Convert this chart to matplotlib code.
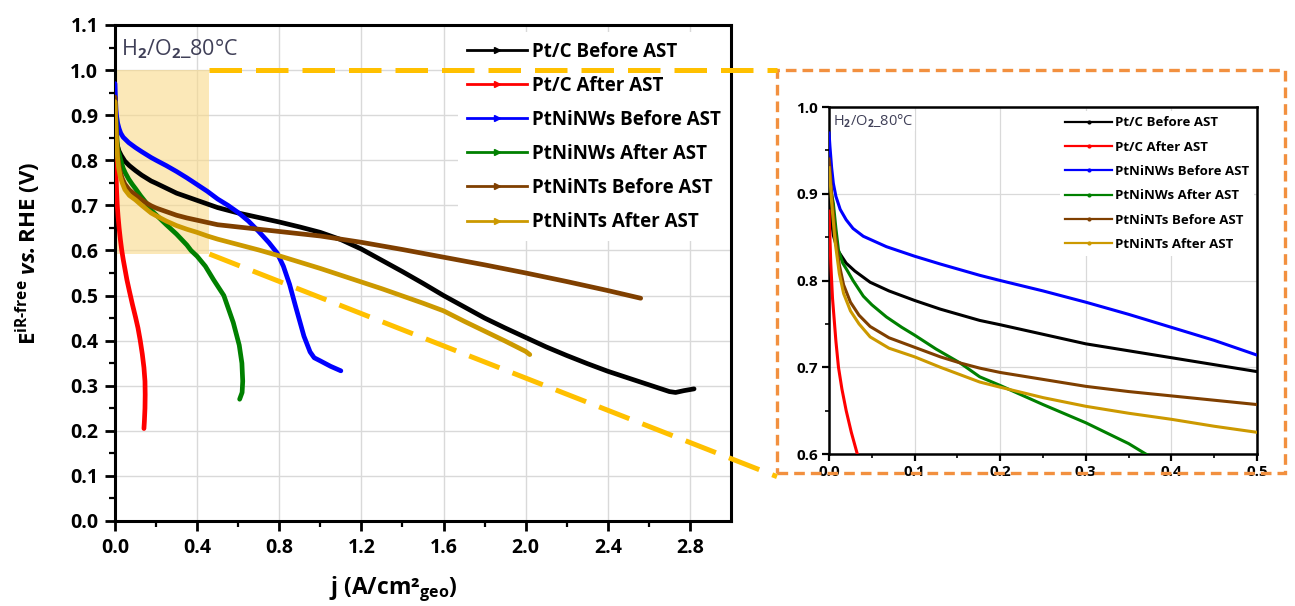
import numpy as np
import matplotlib.pyplot as plt
from matplotlib.lines import Line2D
from matplotlib.patches import Rectangle

plt.rcParams['font.family'] = ['Open Sans', 'DejaVu Sans']
plt.rcParams['font.weight'] = 'bold'
plt.rcParams['mathtext.fontset'] = 'custom'
plt.rcParams['mathtext.rm'] = 'Open Sans'
plt.rcParams['mathtext.bf'] = 'Open Sans:bold'
plt.rcParams['mathtext.it'] = 'Open Sans:italic'
plt.rcParams['mathtext.bfit'] = 'Open Sans:bold:italic'

# polarization curves, j in A/cm2, E in V
ptc_before_j = [0, 0.001, 0.003, 0.005, 0.01, 0.02, 0.03, 0.048, 0.07, 0.1, 0.13, 0.176, 0.2, 0.25,
                0.3, 0.35, 0.4, 0.45, 0.5, 0.6, 0.7, 0.8, 0.9, 1.0, 1.1, 1.2, 1.3, 1.4, 1.5, 1.6,
                1.7, 1.8, 1.9, 2.0, 2.1, 2.2, 2.3, 2.4, 2.5, 2.6, 2.7, 2.73, 2.77, 2.82]
ptc_before_E = [0.94, 0.90, 0.868, 0.852, 0.835, 0.82, 0.811, 0.798, 0.788, 0.777, 0.767, 0.754, 0.749, 0.738,
                0.727, 0.719, 0.711, 0.703, 0.695, 0.683, 0.673, 0.663, 0.652, 0.640, 0.624, 0.603, 0.578, 0.553, 0.527, 0.500,
                0.475, 0.450, 0.428, 0.407, 0.386, 0.367, 0.349, 0.332, 0.317, 0.302, 0.287, 0.285, 0.289, 0.293]

ptc_after_j = [0, 0.001, 0.002, 0.004, 0.006, 0.008, 0.011, 0.015, 0.02, 0.026, 0.033, 0.04, 0.05, 0.058,
               0.07, 0.085, 0.1, 0.112, 0.123, 0.133, 0.141, 0.146, 0.147, 0.146, 0.143, 0.141]
ptc_after_E = [0.88, 0.85, 0.82, 0.78, 0.755, 0.73, 0.70, 0.675, 0.65, 0.625, 0.60, 0.58, 0.555, 0.535,
               0.51, 0.48, 0.452, 0.428, 0.40, 0.37, 0.34, 0.31, 0.28, 0.25, 0.22, 0.205]

nw_before_j = [0, 0.001, 0.003, 0.005, 0.008, 0.013, 0.02, 0.028, 0.04, 0.067, 0.1, 0.13, 0.176, 0.2,
               0.25, 0.3, 0.35, 0.4, 0.45, 0.5, 0.55, 0.6, 0.65, 0.7, 0.75, 0.79, 0.82, 0.85, 0.88, 0.92,
               0.95, 0.97, 1.0, 1.05, 1.1]
nw_before_E = [0.97, 0.955, 0.93, 0.912, 0.897, 0.882, 0.87, 0.86, 0.851, 0.839, 0.828, 0.819, 0.806, 0.80,
               0.788, 0.775, 0.761, 0.746, 0.731, 0.714, 0.70, 0.684, 0.665, 0.642, 0.617, 0.594, 0.565, 0.525, 0.475, 0.41,
               0.375, 0.362, 0.355, 0.343, 0.333]

nw_after_j = [0, 0.002, 0.005, 0.008, 0.011, 0.016, 0.021, 0.028, 0.04, 0.05, 0.067, 0.085, 0.1, 0.125,
              0.153, 0.176, 0.2, 0.25, 0.3, 0.35, 0.37, 0.4, 0.44, 0.48, 0.53, 0.576, 0.605, 0.618,
              0.622, 0.619, 0.607]
nw_after_E = [0.93, 0.905, 0.889, 0.86, 0.835, 0.82, 0.812, 0.80, 0.782, 0.772, 0.758, 0.746, 0.737, 0.721,
              0.705, 0.689, 0.679, 0.657, 0.636, 0.612, 0.60, 0.587, 0.565, 0.535, 0.50, 0.44, 0.39, 0.35,
              0.31, 0.285, 0.27]

nt_before_j = [0, 0.001, 0.003, 0.007, 0.012, 0.017, 0.025, 0.035, 0.048, 0.07, 0.1, 0.13, 0.153, 0.176,
               0.2, 0.25, 0.3, 0.35, 0.4, 0.45, 0.5, 0.6, 0.8, 1.0, 1.2, 1.4, 1.6, 1.8, 2.0, 2.2, 2.4, 2.56]
nt_before_E = [0.94, 0.93, 0.90, 0.855, 0.818, 0.795, 0.775, 0.76, 0.747, 0.734, 0.723, 0.712, 0.705, 0.699,
               0.694, 0.686, 0.678, 0.672, 0.667, 0.662, 0.657, 0.652, 0.642, 0.632, 0.618, 0.602, 0.585, 0.568,
               0.55, 0.531, 0.511, 0.494]

nt_after_j = [0, 0.001, 0.003, 0.007, 0.012, 0.017, 0.025, 0.035, 0.048, 0.07, 0.1, 0.13, 0.176, 0.2,
              0.25, 0.3, 0.35, 0.4, 0.45, 0.5, 0.6, 0.7, 0.8, 0.9, 1.0, 1.1, 1.2, 1.3, 1.4, 1.5, 1.6,
              1.7, 1.8, 1.9, 2.0, 2.02]
nt_after_E = [0.93, 0.92, 0.89, 0.845, 0.808, 0.785, 0.765, 0.75, 0.735, 0.722, 0.712, 0.700, 0.683, 0.677,
              0.665, 0.655, 0.647, 0.64, 0.632, 0.625, 0.613, 0.601, 0.588, 0.574, 0.56, 0.545, 0.53, 0.515,
              0.499, 0.483, 0.466, 0.443, 0.421, 0.399, 0.376, 0.369]

series_j = [ptc_before_j, ptc_after_j, nw_before_j, nw_after_j, nt_before_j, nt_after_j]
series_E = [ptc_before_E, ptc_after_E, nw_before_E, nw_after_E, nt_before_E, nt_after_E]
labels = ['Pt/C Before AST', 'Pt/C After AST', 'PtNiNWs Before AST',
          'PtNiNWs After AST', 'PtNiNTs Before AST', 'PtNiNTs After AST']
colors = ['#000000', '#ff0000', '#0000ff', '#008000', '#7f3f00', '#cc9900']

main_xticks = [0.0, 0.4, 0.8, 1.2, 1.6, 2.0, 2.4, 2.8]
main_yticks = [0.0, 0.1, 0.2, 0.3, 0.4, 0.5, 0.6, 0.7, 0.8, 0.9, 1.0, 1.1]
inset_xticks = [0.0, 0.1, 0.2, 0.3, 0.4, 0.5]
inset_yticks = [0.6, 0.7, 0.8, 0.9, 1.0]
zoom_j = (0.0, 0.46)
zoom_E = (0.592, 1.0)
condition = r'H$_2$/O$_2$_80°C'

fig = plt.figure(figsize=(12.95, 6.06), dpi=100)
ax = fig.add_axes([0.0888, 0.1403, 0.4757, 0.8185])
axin = fig.add_axes([0.6402, 0.2508, 0.3305, 0.5726])

# ---- main panel ----
ax.axvspan(zoom_j[0], zoom_j[1], ymin=zoom_E[0] / 1.1, ymax=zoom_E[1] / 1.1,
           facecolor='#f9d98a', alpha=0.6, lw=0, zorder=1)
for j, E, c in zip(series_j, series_E, colors):
    ax.plot(j, E, color=c, lw=3.4, solid_capstyle='round', solid_joinstyle='round', zorder=3)

ax.set_xlim(0, 3.0)
ax.set_ylim(0, 1.1)
ax.set_xticks(main_xticks)
ax.set_yticks(main_yticks)
ax.set_xticks(np.arange(0.2, 3.0, 0.4), minor=True)
ax.set_yticks(np.arange(0.05, 1.1, 0.1), minor=True)
ax.grid(True, which='major', color='#d9d9d9', lw=1.0, zorder=0)
ax.set_axisbelow(True)
ax.tick_params(which='major', direction='out', length=7, width=2, labelsize=14, pad=5)
ax.tick_params(which='minor', direction='out', length=4, width=1.6)
for s in ax.spines.values():
    s.set_linewidth(2.2)

ax.set_xlabel(r'j (A/cm²$_{\mathbf{geo}}$)', fontsize=16.5, fontweight='bold')
ax.xaxis.set_label_coords(0.451, -0.108)
ax.set_ylabel(r'E$^{\mathrm{iR\text{-}free}}$ $\mathbfit{vs.}$RHE (V)', fontsize=16, fontweight='bold')
ax.yaxis.set_label_coords(-0.117, 0.54)
ax.text(0.01, 0.975, condition, transform=ax.transAxes, fontsize=15.5, fontweight='normal',
        color='#404058', va='top', ha='left', zorder=5)

handles = [Line2D([], [], color=c, lw=2, marker='>', markersize=4) for c in colors]
leg = ax.legend(handles, labels, loc='upper left', bbox_to_anchor=(0.556, 0.985), fontsize=13.5,
                frameon=True, fancybox=False, framealpha=1, edgecolor='none', facecolor='white',
                handlelength=3.2, handletextpad=0.25, labelspacing=0.75, borderaxespad=0, borderpad=0.5)
leg.set_zorder(2.4)

# ---- inset panel ----
for j, E, c in zip(series_j, series_E, colors):
    axin.plot(j, E, color=c, lw=2.2, solid_joinstyle='round', zorder=3)
axin.set_xlim(0, 0.5)
axin.set_ylim(0.6, 1.0)
axin.set_xticks(inset_xticks)
axin.set_yticks(inset_yticks)
axin.set_xticks(np.arange(0.05, 0.5, 0.1), minor=True)
axin.set_yticks(np.arange(0.65, 1.0, 0.1), minor=True)
axin.grid(True, which='major', color='#d9d9d9', lw=0.9, zorder=0)
axin.set_axisbelow(True)
axin.tick_params(which='major', direction='out', length=5, width=1.6, labelsize=11, pad=3)
axin.tick_params(which='minor', direction='out', length=3, width=1.2)
for s in axin.spines.values():
    s.set_linewidth(1.8)
axin.text(0.01, 0.985, condition, transform=axin.transAxes, fontsize=10.5, fontweight='normal',
          color='#404058', va='top', ha='left', zorder=5,
          bbox=dict(facecolor='white', edgecolor='none', pad=1))
hin = [Line2D([], [], color=c, lw=1.6, marker='o', markersize=2) for c in colors]
legin = axin.legend(hin, labels, loc='upper right', bbox_to_anchor=(1.0, 0.996), fontsize=9.5,
                    frameon=True, fancybox=False, framealpha=1, edgecolor='none', facecolor='white',
                    handlelength=3.6, handletextpad=0.2, labelspacing=0.86, borderaxespad=0.2, borderpad=0.4)
legin.set_zorder(2.4)

# ---- zoom connectors ----
to_fig = fig.transFigure.inverted()
corner_top = to_fig.transform(ax.transData.transform((zoom_j[1], zoom_E[1])))
corner_bot = to_fig.transform(ax.transData.transform((zoom_j[1], zoom_E[0])))
box_left, box_bottom, box_right, box_top = 777 / 1295, 1 - 473 / 606, 1285 / 1295, 1 - 70 / 606
yellow = '#ffc000'
fig.add_artist(Line2D([corner_top[0], box_left], [corner_top[1], corner_top[1]], color=yellow,
                      lw=3.6, dashes=(6.5, 2.8), transform=fig.transFigure, zorder=10))
fig.add_artist(Line2D([corner_bot[0], box_left], [corner_bot[1], box_bottom - 0.006], color=yellow,
                      lw=3.6, dashes=(6.5, 2.8), transform=fig.transFigure, zorder=10))
fig.add_artist(Rectangle((box_left, box_bottom), box_right - box_left, box_top - box_bottom,
                         fill=False, edgecolor='#f2903f', lw=2.4, linestyle=(0, (3.2, 1.8)),
                         transform=fig.transFigure, zorder=9))

fig.savefig('out.png', dpi=100)
